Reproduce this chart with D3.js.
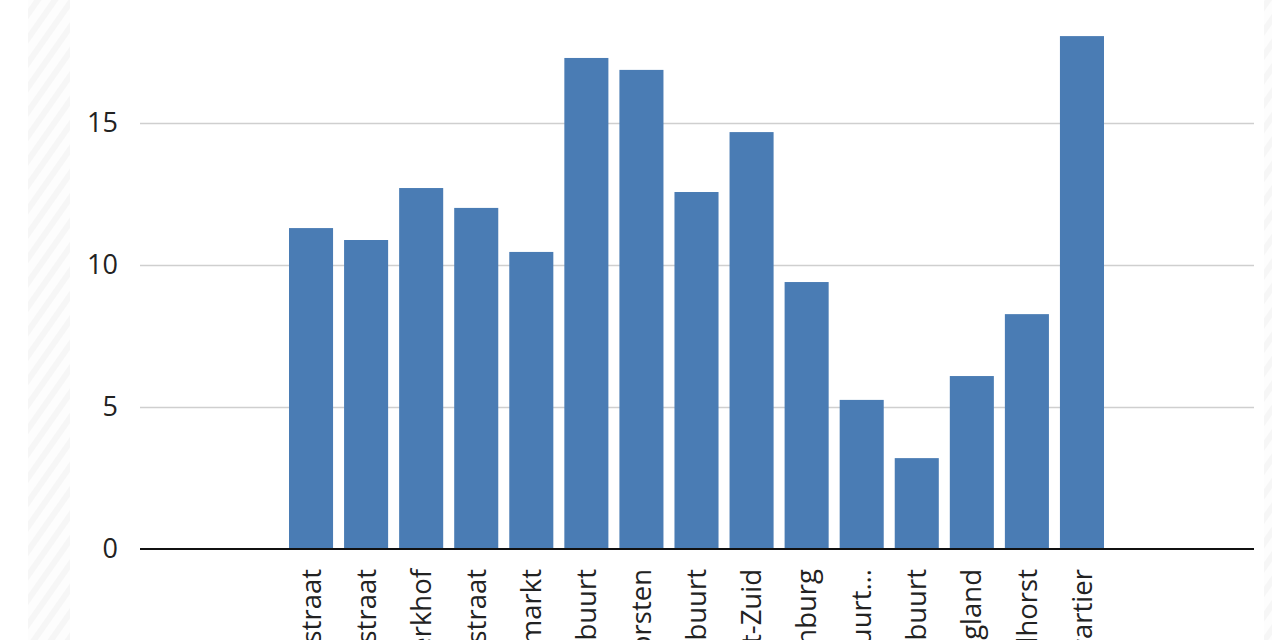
<!DOCTYPE html>
<html>
<head>
<meta charset="UTF-8">
<script src="https://d3js.org/d3.v7.min.js"></script>
<style>
body { margin: 0; background: #fff; }
svg { display: block; }
text { font-family: "Open Sans", sans-serif; }
.grid line { stroke: #cfcfcf; stroke-width: 1.5; }
.grid .domain { display: none; }
.yaxis .domain, .yaxis line { display: none; }
.yaxis text { fill: #222; font-size: 27px; }
.xaxis .domain { display: none; }
.xaxis text { fill: #222; font-size: 27.5px; }
</style>
</head>
<body>
<svg width="1272" height="640"></svg>
<script>

var categories = ["Kalverstraat", "Haarlemmerstraat", "Oude Kerkhof", "Utrechtsestraat", "Nieuwmarkt",
  "Grachtengordelbuurt", "De Horsten", "Staatsliedenbuurt", "Oost-Zuid", "Wittenburg",
  "Frederik Hendrikbuurt…", "Dapperbuurt", "Nieuw England", "Molhorst", "Museumkwartier"];
var values = [11.3, 10.88, 12.71, 12.01, 10.46, 17.29, 16.87, 12.57, 14.68, 9.4, 5.25, 3.2, 6.09, 8.27, 18.06];
var yTicks = [0, 5, 10, 15];

var svg = d3.select("svg"),
    width = +svg.attr("width"),
    height = +svg.attr("height");

// faint striped side panels
var defs = svg.append("defs");
var pat = defs.append("pattern")
    .attr("id", "stripes")
    .attr("width", 14).attr("height", 14)
    .attr("patternUnits", "userSpaceOnUse")
    .attr("patternTransform", "rotate(35)");
pat.append("rect").attr("width", 14).attr("height", 14).attr("fill", "#fdfdfd");
pat.append("rect").attr("width", 6).attr("height", 14).attr("fill", "#f6f6f6");

svg.append("rect").attr("x", 28).attr("y", 0).attr("width", 42).attr("height", height).attr("fill", "url(#stripes)");
svg.append("rect").attr("x", 1264).attr("y", 0).attr("width", 8).attr("height", height).attr("fill", "url(#stripes)");

var left = 140, right = 1254, baseY = 549;

var x = d3.scaleBand()
    .domain(categories)
    .range([283.5, 1109.5])
    .paddingInner(0.2)
    .paddingOuter(0.1);

var y = d3.scaleLinear()
    .domain([0, 20])
    .range([baseY, baseY - 20 * 28.4]);

// gridlines
svg.append("g")
    .attr("class", "grid")
    .attr("transform", "translate(" + left + ",0)")
    .call(d3.axisLeft(y).tickValues(yTicks.slice(1)).tickSize(-(right - left)).tickFormat(""));

svg.append("g")
    .attr("class", "yaxis")
    .attr("transform", "translate(" + (left - 22) + ",0)")
    .call(d3.axisLeft(y).tickValues(yTicks).tickSize(0).tickPadding(0));

svg.append("g")
  .selectAll("rect")
  .data(values)
  .enter().append("rect")
    .attr("x", function(d, i) { return x(categories[i]); })
    .attr("y", function(d) { return y(d); })
    .attr("width", x.bandwidth())
    .attr("height", function(d) { return y(0) - y(d); })
    .attr("fill", "#4a7cb4");

// baseline
svg.append("line")
    .attr("x1", left).attr("x2", right)
    .attr("y1", baseY).attr("y2", baseY)
    .attr("stroke", "#111").attr("stroke-width", 2);

svg.append("g")
    .attr("class", "xaxis")
    .attr("transform", "translate(0," + baseY + ")")
    .call(d3.axisBottom(x).tickSize(0))
  .selectAll("text")
    .attr("transform", "rotate(-90)")
    .attr("text-anchor", "end")
    .attr("x", -20)
    .attr("y", 0)
    .attr("dy", "0.35em");

</script>
</body>
</html>
